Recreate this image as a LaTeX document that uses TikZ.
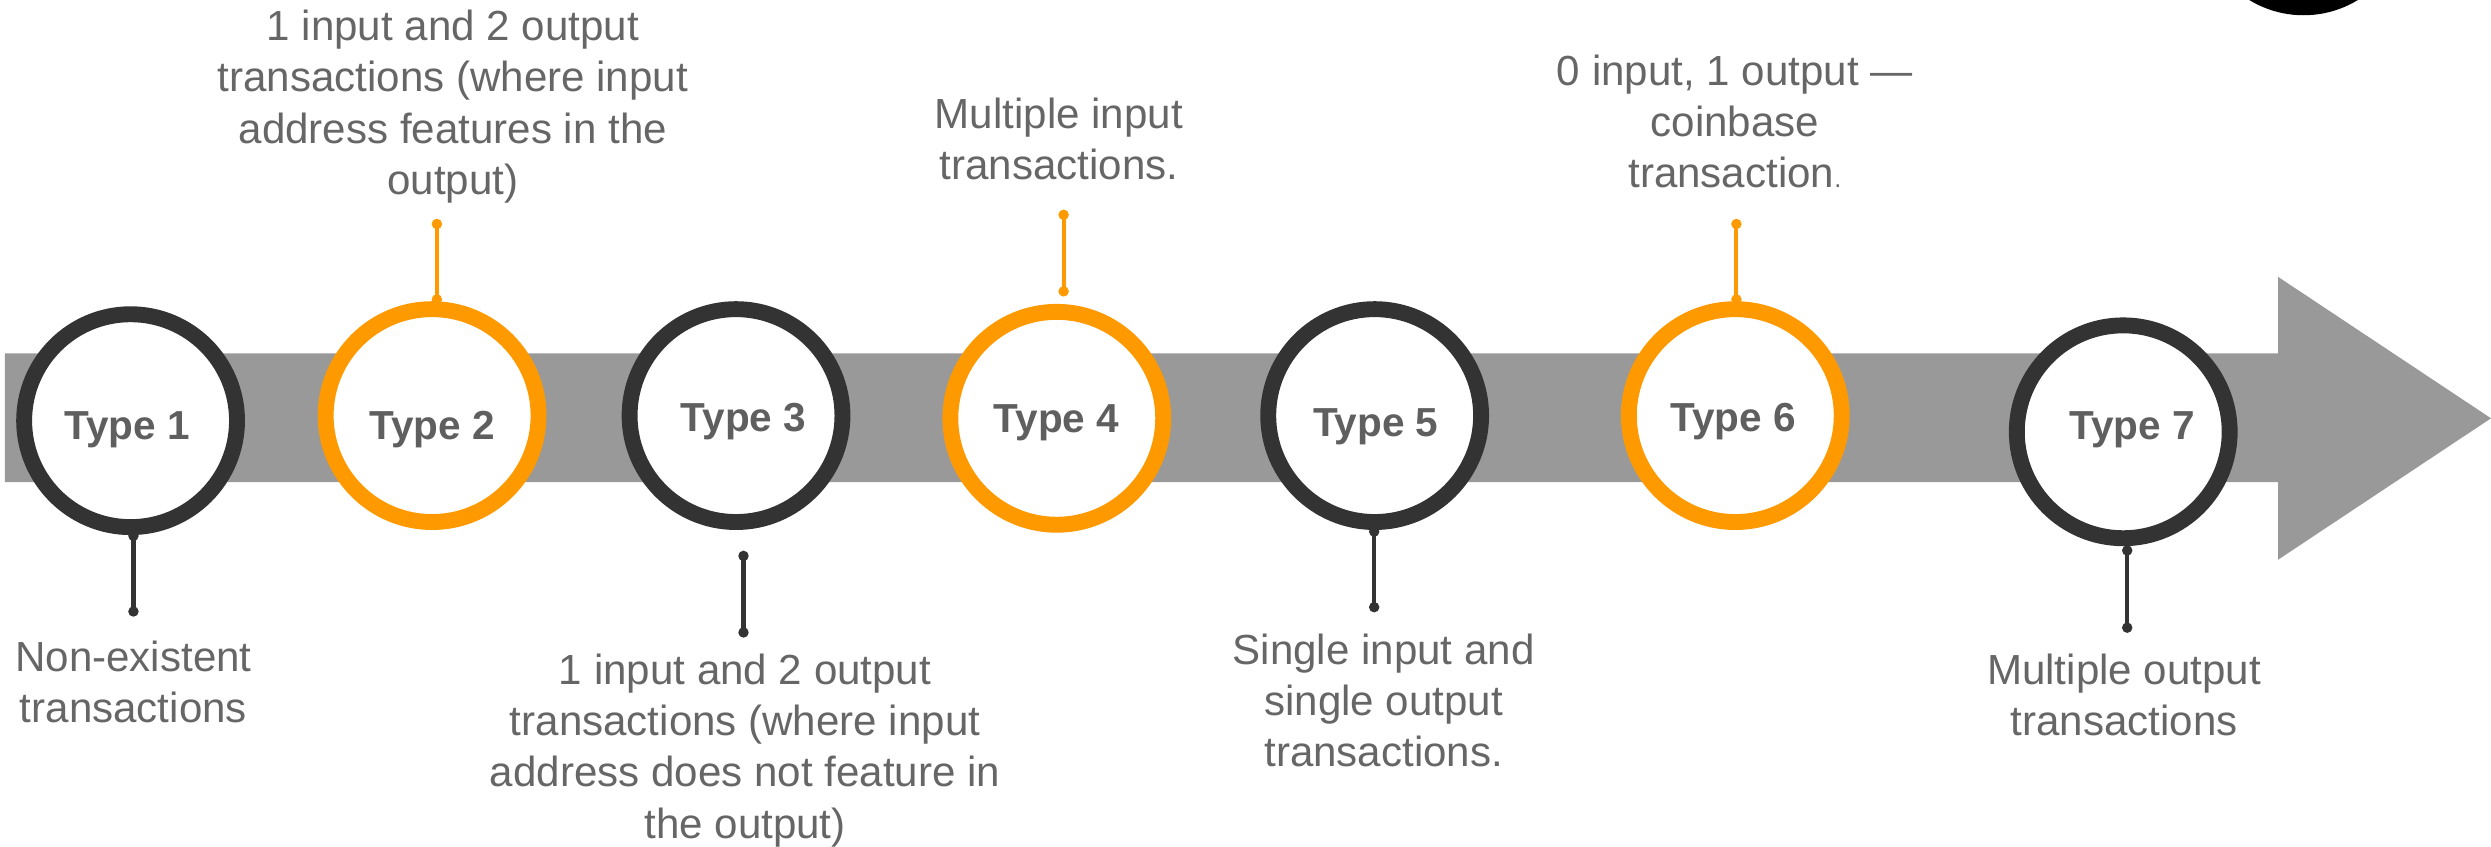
\documentclass[tikz,border=0pt]{standalone}
\usepackage{fontspec}
\setmainfont{Liberation Sans}
\definecolor{darkring}{HTML}{333333}
\definecolor{orangering}{HTML}{FF9900}
\definecolor{bandgray}{HTML}{999999}
\definecolor{txtgray}{HTML}{666666}
\definecolor{lblgray}{HTML}{5F5F5F}
\tikzset{
  ring/.style={circle, minimum size=134pt, inner sep=0pt, line width=10pt, fill=white},
  typelabel/.style={anchor=base, inner sep=0pt, text=lblgray, font=\fontsize{25.5}{30}\selectfont\bfseries},
  desc/.style={anchor=north, inner sep=0pt, align=center, text=txtgray, font=\fontsize{26.5}{32.2}\selectfont},
  stemline/.style={line width=2.6pt}
}
\newcommand{\fl}{\rule{0pt}{22pt}}
\begin{document}
\begin{tikzpicture}[x=1pt,y=-1pt]
\useasboundingbox (0,0) rectangle (1568,532.6);
% blob at top right
\begin{scope}
\clip (0,0) rectangle (1568,532.6);
\fill[black] (1450,-56) circle (65.6);
\end{scope}
% band arrow
\fill[bandgray] (3,222.5) -- (1434,222.5) -- (1434,174.3) -- (1568,263.3) -- (1434,352.3) -- (1434,303.4) -- (3,303.4) -- cycle;
% rings
\node[ring, draw=darkring]   (c1) at (82.2,264.8) {};
\node[ring, draw=orangering] (c2) at (272,261.6) {};
\node[ring, draw=darkring]   (c3) at (463.3,261.6) {};
\node[ring, draw=orangering] (c4) at (665.2,263.3) {};
\node[ring, draw=darkring]   (c5) at (865.3,261.6) {};
\node[ring, draw=orangering] (c6) at (1092.3,261.6) {};
\node[ring, draw=darkring]   (c7) at (1336.5,271.8) {};
% type labels
\node[typelabel] (l1) at (80,276.9) {Type 1};
\node[typelabel] (l2) at (272,276.9) {Type 2};
\node[typelabel] (l3) at (468,271.8) {Type 3};
\node[typelabel] (l4) at (665,272.4) {Type 4};
\node[typelabel] (l5) at (866,274.5) {Type 5};
\node[typelabel] (l6) at (1091,271.8) {Type 6};
\node[typelabel] (l7) at (1342,276.9) {Type 7};
% stem coordinates
\coordinate (s1a) at (84,337.3);   \coordinate (s1b) at (84,384.9);
\coordinate (s2a) at (275,188.5);  \coordinate (s2b) at (275,141);
\coordinate (s3a) at (468,349.9);  \coordinate (s3b) at (468,398.1);
\coordinate (s4a) at (669.5,183.4);\coordinate (s4b) at (669.5,135.2);
\coordinate (s5a) at (865,334.6);  \coordinate (s5b) at (865,382.2);
\coordinate (s6a) at (1093,188.5); \coordinate (s6b) at (1093,141);
\coordinate (s7a) at (1339,346.5); \coordinate (s7b) at (1339,395.1);
\foreach \i/\c in {1/darkring,2/orangering,3/darkring,4/orangering,5/darkring,6/orangering,7/darkring}{
  \draw[stemline, \c] (s\i a) -- (s\i b);
  \fill[\c] (s\i a) circle (3.3) (s\i b) circle (3.3);
}
% descriptions
\node[desc] (d1) at (84,400.2) {\fl Non-existent\\transactions};
\node[desc] (d2) at (285,3.5) {\fl 1 input and 2 output\\transactions (where input\\address features in the\\output)};
\node[desc] (d3) at (469,408.7) {\fl 1 input and 2 output\\transactions (where input\\address does not feature in\\the output)};
\node[desc] (d4) at (666.5,58.5) {\fl Multiple input\\transactions.};
\node[desc] (d5) at (871,395.8) {\fl Single input and\\single output\\transactions.};
\node[desc] (d6) at (1092,31.7) {\fl 0 input, 1 output —\\coinbase\\transaction{\fontsize{16}{16}\selectfont.}};
\node[desc] (d7) at (1337,408.7) {\fl Multiple output\\transactions};
\end{tikzpicture}
\end{document}
